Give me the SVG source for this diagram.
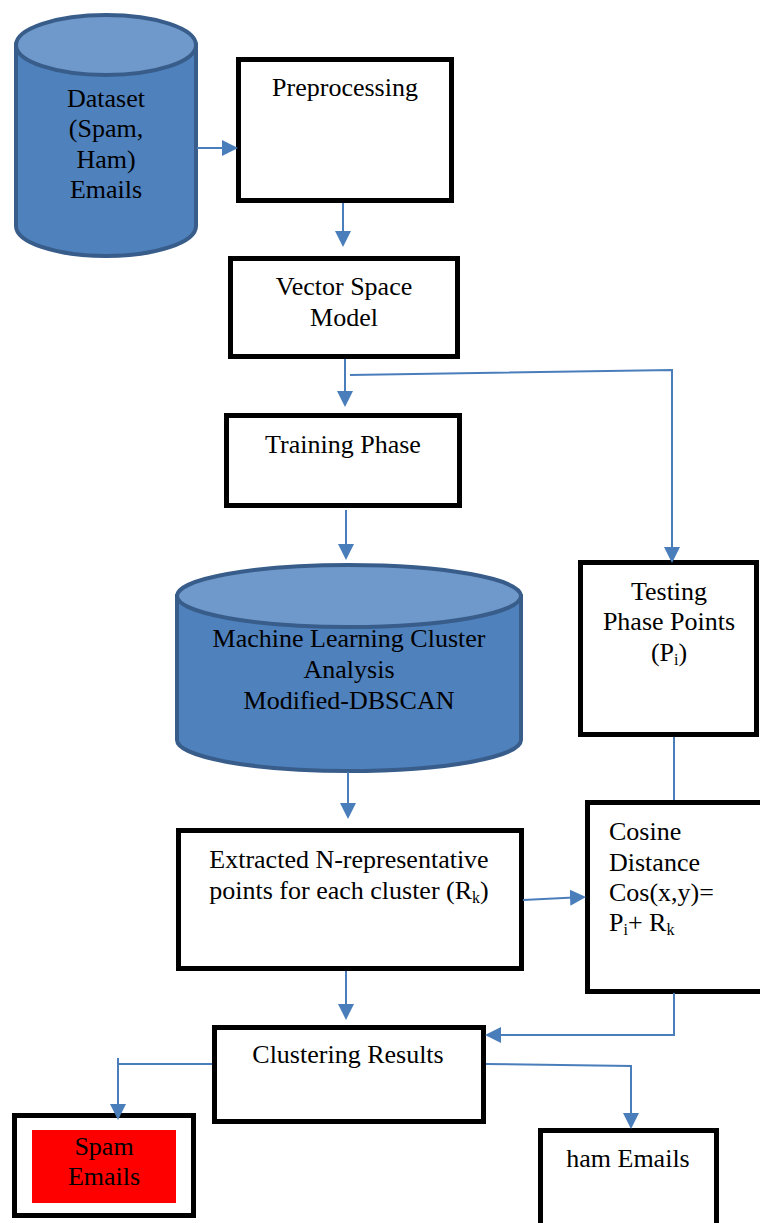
<svg xmlns="http://www.w3.org/2000/svg" width="760" height="1223" viewBox="0 0 760 1223">
<defs>
<style>
.box{fill:#fff;stroke:#000;stroke-width:5}
.cyl{fill:#4f81bd;stroke:#385d8a;stroke-width:4}
.cyltop{fill:#6f99cb;stroke:#385d8a;stroke-width:4}
.t{font-family:"Liberation Serif","Times New Roman",serif;font-size:26px;fill:#000}
.tc{text-anchor:middle}
.sub{font-size:16px}
.ln{fill:none;stroke:#4a7ebb;stroke-width:2}
</style>
<marker id="ah" markerWidth="8" markerHeight="8" refX="7" refY="4" orient="auto" markerUnits="strokeWidth">
<path d="M0,0 L8,4 L0,8 Z" fill="#4a7ebb"/>
</marker>
</defs>
<rect width="760" height="1223" fill="#fff"/>

<g id="dataset">
<path class="cyl" d="M16,45 L16,226 A90,30 0 0 0 196,226 L196,45 Z"/>
<ellipse class="cyltop" cx="106" cy="45" rx="90" ry="30"/>
<text class="t tc" x="106" y="107">Dataset</text>
<text class="t tc" x="106" y="137">(Spam,</text>
<text class="t tc" x="106" y="168">Ham)</text>
<text class="t tc" x="106" y="198">Emails</text>
</g>

<g id="preprocessing">
<rect class="box" x="238.5" y="59.5" width="213" height="141"/>
<text class="t tc" x="345" y="96">Preprocessing</text>
</g>

<g id="vsm">
<rect class="box" x="230.5" y="258.5" width="227" height="98"/>
<text class="t tc" x="344" y="295">Vector Space</text>
<text class="t tc" x="344" y="326">Model</text>
</g>

<g id="training">
<rect class="box" x="226.5" y="415.5" width="233" height="90"/>
<text class="t tc" x="343" y="453">Training Phase</text>
</g>

<g id="ml">
<path class="cyl" d="M177,596 L177,740 A172,31 0 0 0 521,740 L521,596 Z"/>
<ellipse class="cyltop" cx="349" cy="596" rx="172" ry="31"/>
<text class="t tc" x="349" y="647">Machine Learning Cluster</text>
<text class="t tc" x="349" y="678">Analysis</text>
<text class="t tc" x="349" y="709">Modified-DBSCAN</text>
</g>

<g id="testing">
<rect class="box" x="580.5" y="562.5" width="176" height="172"/>
<text class="t tc" x="669" y="600">Testing</text>
<text class="t tc" x="669" y="630">Phase Points</text>
<text class="t tc" x="669" y="661">(P<tspan class="sub" dy="4">i</tspan><tspan dy="-4">)</tspan></text>
</g>

<g id="extracted">
<rect class="box" x="178.5" y="830.5" width="343" height="138"/>
<text class="t tc" x="349" y="868">Extracted N-representative</text>
<text class="t tc" x="349" y="899">points for each cluster (R<tspan class="sub" dy="4">k</tspan><tspan dy="-4">)</tspan></text>
</g>

<g id="cosine">
<rect class="box" x="587.5" y="802.5" width="176" height="189"/>
<text class="t" x="609" y="840">Cosine</text>
<text class="t" x="609" y="871">Distance</text>
<text class="t" x="609" y="901">Cos(x,y)=</text>
<text class="t" x="609" y="931">P<tspan class="sub" dy="4">i</tspan><tspan dy="-4">+ R</tspan><tspan class="sub" dy="4">k</tspan></text>
</g>

<g id="clustering">
<rect class="box" x="214.5" y="1027.5" width="269" height="94"/>
<text class="t tc" x="348" y="1063">Clustering Results</text>
</g>

<g id="spam">
<rect class="box" x="14.5" y="1115.5" width="179" height="100"/>
<rect x="32" y="1130" width="144" height="73" fill="#ff0000"/>
<text class="t tc" x="104" y="1155">Spam</text>
<text class="t tc" x="104" y="1185">Emails</text>
</g>

<g id="ham">
<rect class="box" x="540.5" y="1130.5" width="176" height="100"/>
<text class="t tc" x="628" y="1167">ham Emails</text>
</g>

<g id="connectors">
<line class="ln" x1="197" y1="148" x2="236" y2="148" marker-end="url(#ah)"/>
<line class="ln" x1="343" y1="203" x2="343" y2="245" marker-end="url(#ah)"/>
<line class="ln" x1="345" y1="359" x2="345" y2="405" marker-end="url(#ah)"/>
<polyline class="ln" points="350,375 672,370 672,561" marker-end="url(#ah)"/>
<line class="ln" x1="346" y1="510" x2="346" y2="558" marker-end="url(#ah)"/>
<line class="ln" x1="348" y1="772" x2="348" y2="817" marker-end="url(#ah)"/>
<line class="ln" x1="674" y1="737" x2="674" y2="800"/>
<line class="ln" x1="523" y1="900" x2="584" y2="897" marker-end="url(#ah)"/>
<line class="ln" x1="346" y1="971" x2="346" y2="1018" marker-end="url(#ah)"/>
<polyline class="ln" points="674,993 674,1035 487,1035" marker-end="url(#ah)"/>
<polyline class="ln" points="212,1064 118,1064"/>
<polyline class="ln" points="118,1058 118,1118" marker-end="url(#ah)"/>
<polyline class="ln" points="486,1064 631,1066 631,1127" marker-end="url(#ah)"/>
</g>
</svg>
